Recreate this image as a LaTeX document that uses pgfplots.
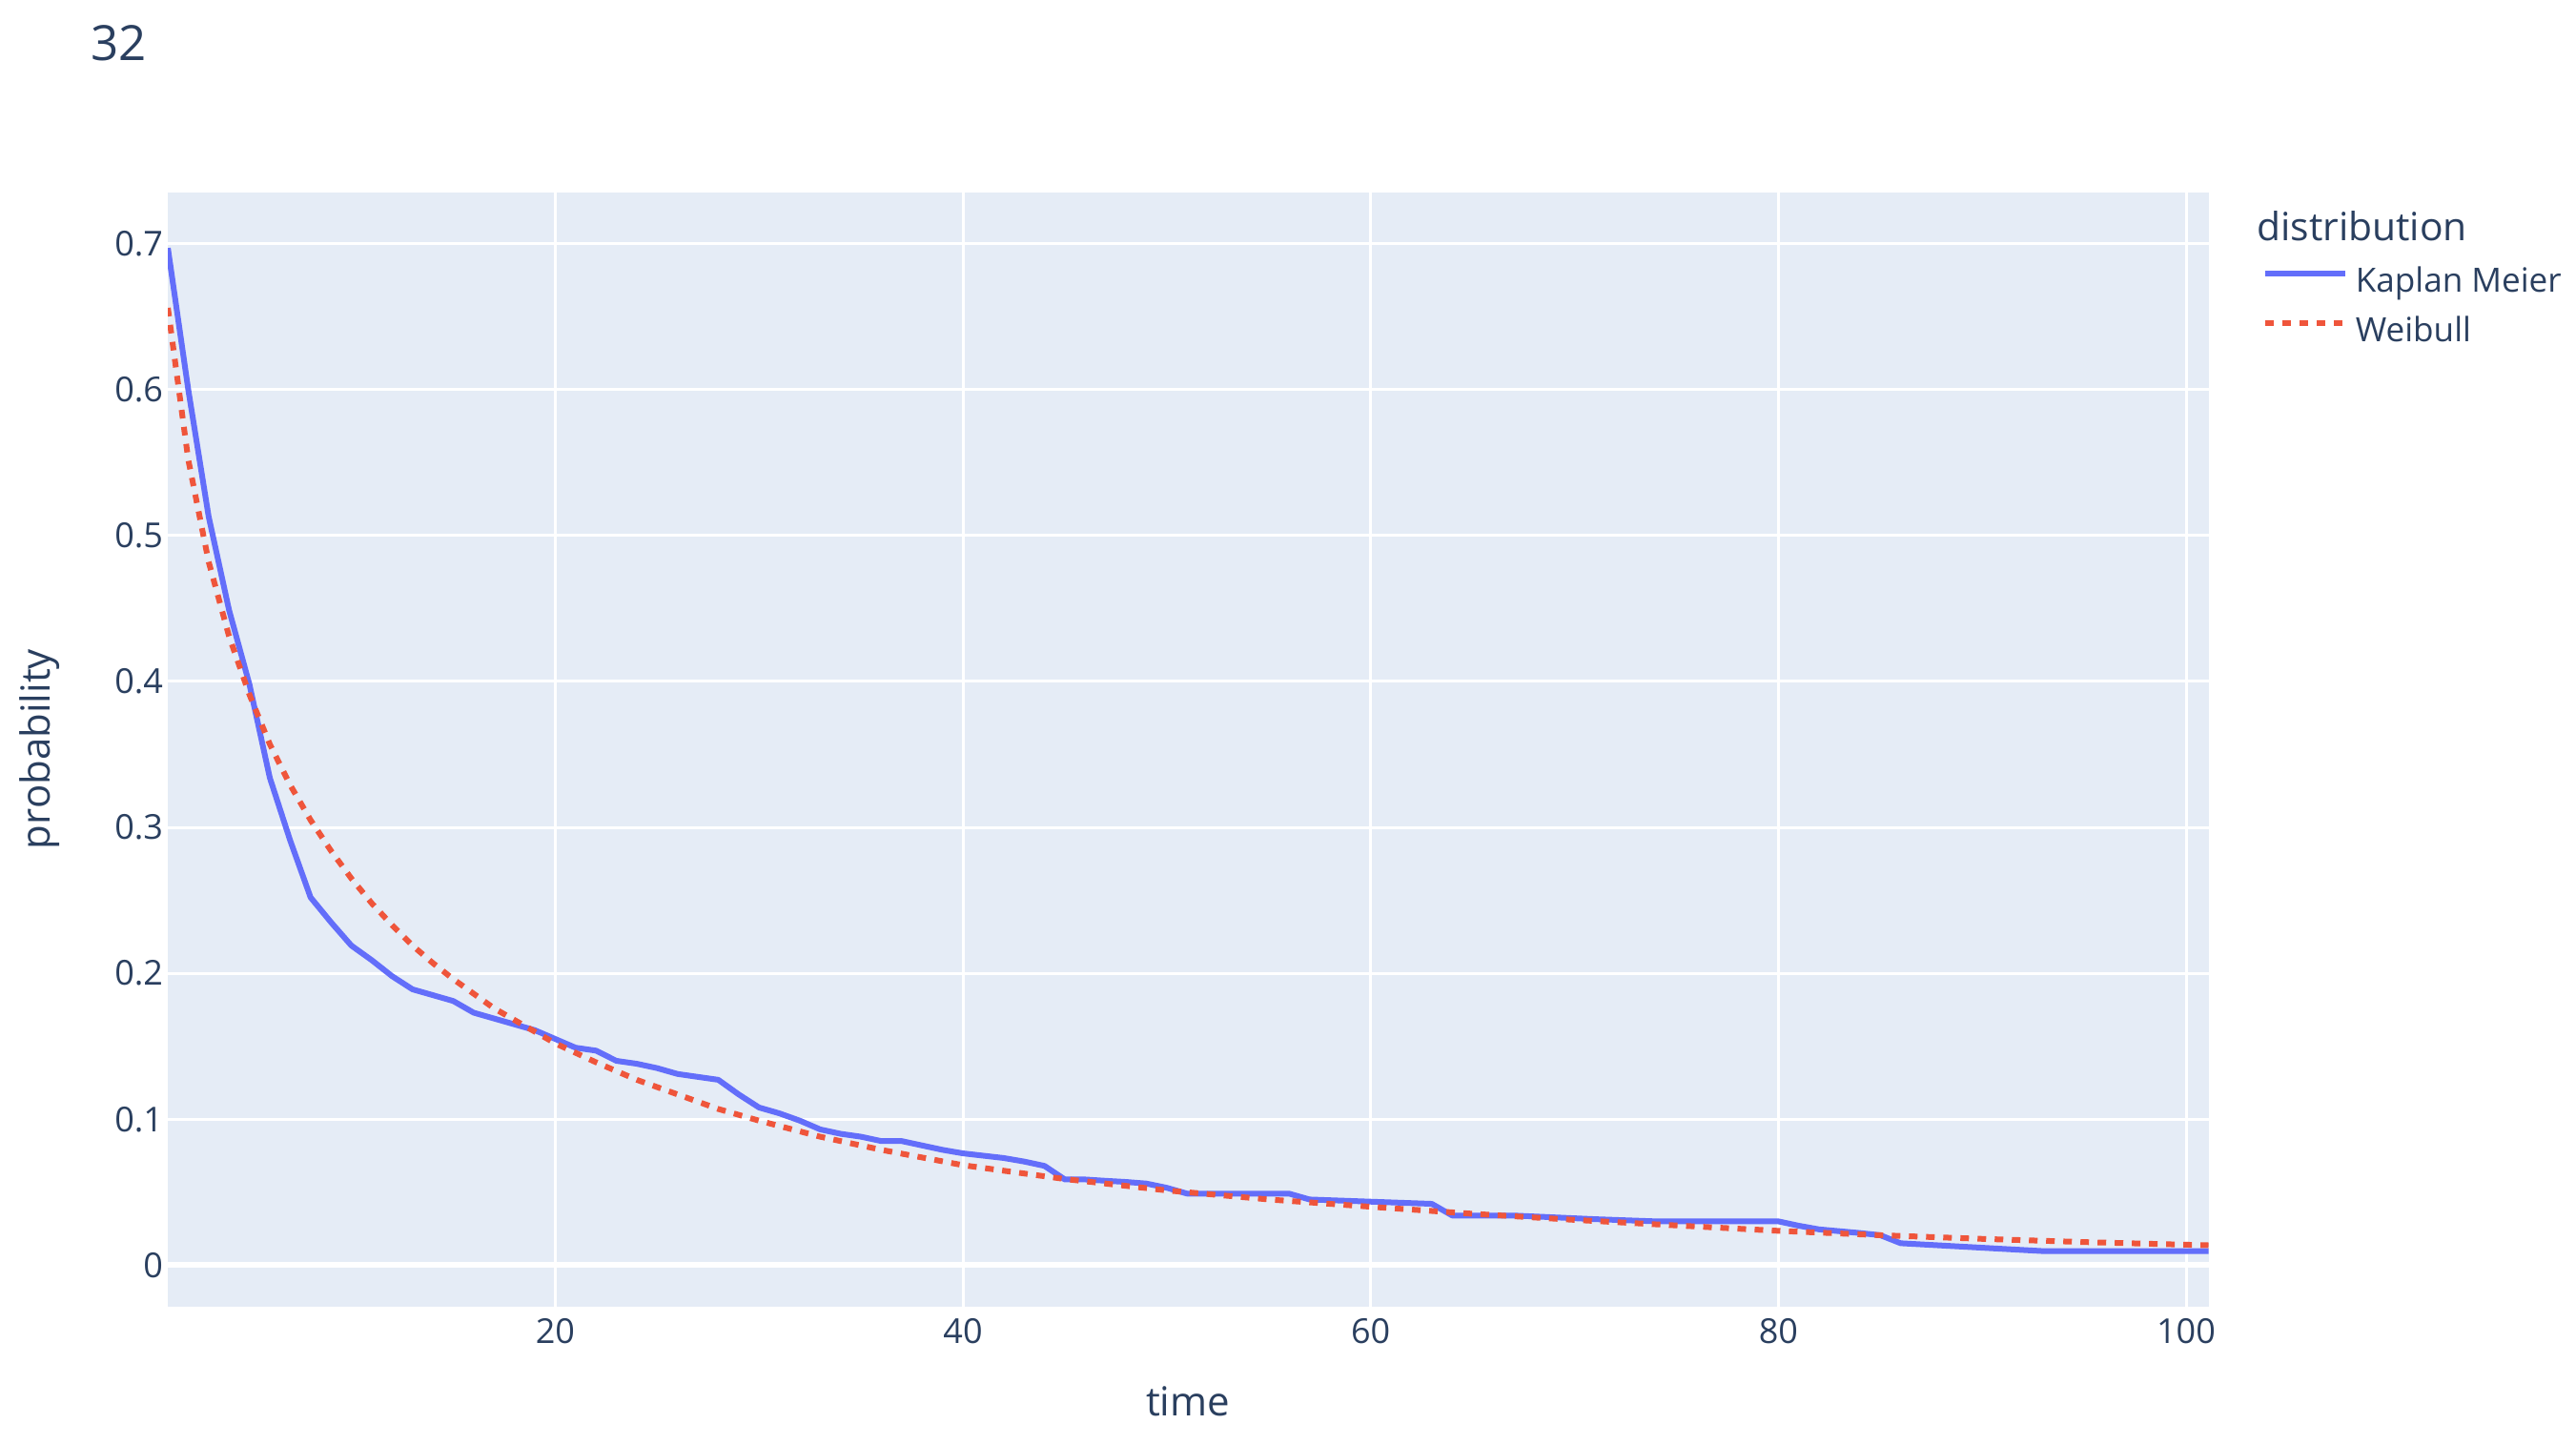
\documentclass[border=0pt]{standalone}
\usepackage{pgfplots}
\pgfplotsset{compat=1.18}
\usepackage{fontspec}
\setmainfont{Open Sans}
\definecolor{txt}{HTML}{2A3F5F}
\definecolor{bg}{HTML}{E5ECF6}
\definecolor{km}{HTML}{636EFA}
\definecolor{wb}{HTML}{EF553B}
\begin{document}
\begin{tikzpicture}
\path[use as bounding box] (0,0) rectangle (900.7bp,-504.7bp);
\begin{axis}[
  at={(58.7bp,-457bp)}, anchor=south west,
  scale only axis, width=713.5bp, height=389.7bp,
  xmin=1, xmax=101.1, ymin=-0.0285, ymax=0.7351,
  xtick={20,40,60,80,100},
  ytick={0,0.1,0.2,0.3,0.4,0.5,0.6,0.7},
  yticklabel={\pgfmathprintnumber[fixed,precision=1]{\tick}},
  /pgf/number format/assume math mode=true,
  axis background/.style={fill=bg},
  grid=major,
  major grid style={white, line width=1bp},
  extra y ticks={0}, extra y tick labels={},
  extra y tick style={major grid style={white, line width=2bp}},
  axis line style={draw=none},
  major tick length=0pt,
  tick label style={font=\fontsize{12bp}{14bp}\selectfont, text=txt},
  yticklabel style={anchor=east, inner sep=0pt, xshift=-1.5bp},
  xticklabel style={anchor=north, inner sep=0pt, yshift=-4bp},
  legend cell align=left,
  legend style={at={(axis description cs:1.0264,0.934)}, anchor=north west,
    draw=none, fill=none, inner sep=0pt, outer sep=0pt,
    row sep=5.6bp, column sep=0pt,
    font=\fontsize{11.7bp}{14bp}\selectfont, text=txt,
    nodes={inner sep=0pt, text height=9bp, text depth=3bp}},
  legend image code/.code={\draw[#1] (0bp,3.5bp) -- (28bp,3.5bp);},
  legend entries={\hspace{2.6bp}Kaplan Meier, \hspace{2.6bp}Weibull},
]
\addplot[km, line width=2bp, line join=round] table {
1 0.697
2 0.600
3 0.513
4 0.449
5 0.398
6 0.334
7 0.291
8 0.252
9 0.235
10 0.219
11 0.209
12 0.198
13 0.189
14 0.185
15 0.181
16 0.173
17 0.169
18 0.165
19 0.161
20 0.155
21 0.149
22 0.147
23 0.140
24 0.138
25 0.135
26 0.131
27 0.129
28 0.127
29 0.117
30 0.108
31 0.104
32 0.099
33 0.093
34 0.090
35 0.088
36 0.085
37 0.085
38 0.082
39 0.079
40 0.0766
41 0.075
42 0.0734
43 0.071
44 0.068
45 0.0587
46 0.0587
47 0.0578
48 0.057
49 0.0559
50 0.053
51 0.049
56 0.049
57 0.045
63 0.042
64 0.034
67 0.034
71 0.0315
74 0.030
80 0.030
81 0.027
82 0.0245
84 0.022
85 0.0205
86 0.015
93 0.0096
101.1 0.0096
};
\addplot[wb, line width=2bp, dash pattern=on 3bp off 3bp] table {
1 0.656
2 0.552
3 0.482
4 0.431
5 0.391
6 0.357
7 0.329
8 0.305
9 0.284
10 0.265
11 0.248
12 0.233
13 0.219
14 0.207
15 0.196
16 0.186
17 0.176
18 0.168
19 0.160
20 0.152
22 0.139
24 0.127
26 0.117
28 0.107
30 0.0990
33 0.0880
36 0.0790
40 0.0685
45 0.0590
50 0.0512
55 0.0450
60 0.0400
65 0.0352
70 0.0310
75 0.0272
80 0.0235
85 0.0205
90 0.0180
95 0.0158
101.1 0.0136
};
\end{axis}
\node[anchor=base west, inner sep=0pt, font=\fontsize{17bp}{20bp}\selectfont, text=txt] at (31.7bp,-21.3bp) {32};
\node[anchor=base, inner sep=0pt, font=\fontsize{14bp}{16bp}\selectfont, text=txt] at (415.4bp,-495.1bp) {time};
\node[anchor=center, inner sep=0pt, rotate=90, font=\fontsize{14bp}{16bp}\selectfont, text=txt] at (14bp,-262bp) {probability};
\node[anchor=base west, inner sep=0pt, font=\fontsize{13.6bp}{16bp}\selectfont, text=txt] at (788.9bp,-84.2bp) {distribution};
\end{tikzpicture}
\end{document}
